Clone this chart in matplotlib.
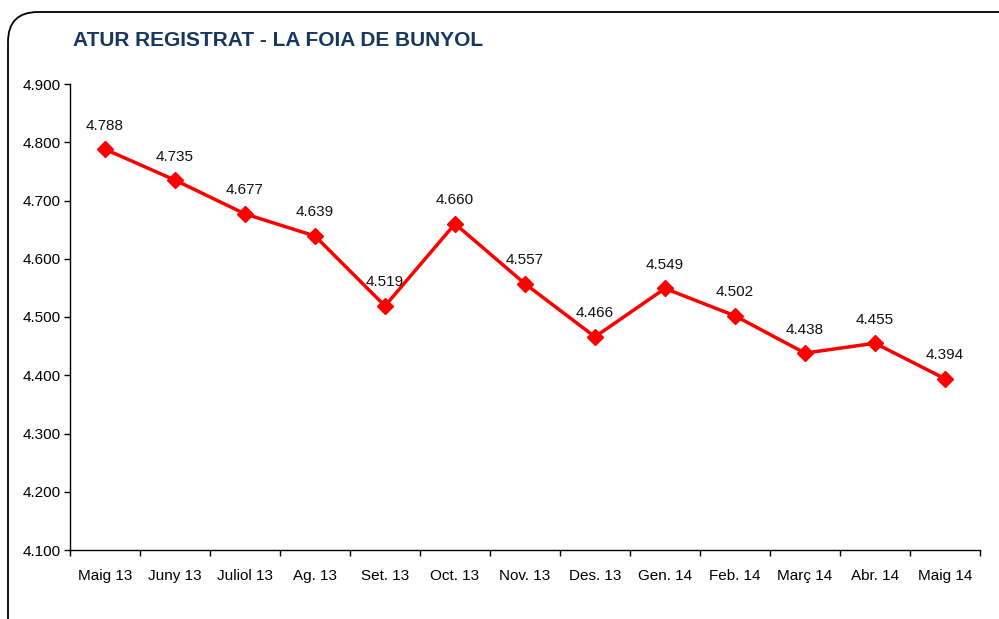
import numpy as np
import matplotlib.pyplot as plt
from matplotlib.patches import FancyBboxPatch
from matplotlib.ticker import FixedLocator, FuncFormatter

plt.rcParams['font.family'] = ['Liberation Sans', 'DejaVu Sans']

months = ['Maig 13', 'Juny 13', 'Juliol 13', 'Ag. 13', 'Set. 13', 'Oct. 13', 'Nov. 13',
          'Des. 13', 'Gen. 14', 'Feb. 14', 'Març 14', 'Abr. 14', 'Maig 14']
atur = [4788, 4735, 4677, 4639, 4519, 4660, 4557, 4466, 4549, 4502, 4438, 4455, 4394]


def dotted(v, pos=None):
    return f"{int(round(v)):,}".replace(',', '.')


fig = plt.figure(figsize=(9.99, 6.19), dpi=100)
ax = fig.add_axes([70 / 999, 69 / 619, 910 / 999, 466 / 619])

# rounded frame around the whole chart (right and bottom edges run off the image)
frame = FancyBboxPatch((8 / 999, -30 / 619), 1040 / 999, 637 / 619,
                       boxstyle="round,pad=0,rounding_size=0.03",
                       transform=fig.transFigure, fill=False, ec='black', lw=1.3,
                       mutation_aspect=999 / 619, clip_on=False)
fig.patches.append(frame)

x = np.arange(len(months))
ax.plot(x, atur, color='#ff0000', lw=2.5, marker='D', ms=8, mfc='#ff0000', mec='#ff0000', zorder=3)
for xi, v in zip(x, atur):
    ax.annotate(dotted(v), (xi, v), xytext=(0, 17), textcoords='offset points',
                ha='center', va='center', fontsize=11, color='#111111')

ax.set_xlim(-0.5, len(months) - 0.5)
ax.set_ylim(4100, 4900)
ax.set_yticks(np.arange(4100, 4901, 100))
ax.yaxis.set_major_formatter(FuncFormatter(dotted))
ax.set_xticks(x)
ax.set_xticklabels(months)
ax.xaxis.set_minor_locator(FixedLocator(np.arange(-0.5, len(months), 1)))
ax.tick_params(axis='x', which='major', length=0, pad=14, labelsize=11)
ax.tick_params(axis='x', which='minor', length=4, width=1, direction='out')
ax.tick_params(axis='y', length=4, width=1, direction='out', labelsize=11, pad=3)
for s in ['top', 'right']:
    ax.spines[s].set_visible(False)
for s in ['left', 'bottom']:
    ax.spines[s].set_linewidth(1)

fig.text(73 / 999, 1 - 41 / 619, 'ATUR REGISTRAT - LA FOIA DE BUNYOL', fontsize=15,
         fontweight='bold', color='#17375e', ha='left', va='center')

fig.savefig('out.png', dpi=100)
